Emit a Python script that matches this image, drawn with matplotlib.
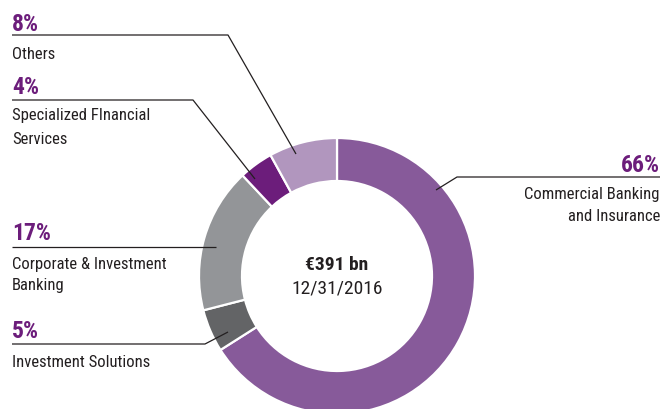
import matplotlib
matplotlib.use("Agg")
import matplotlib.pyplot as plt

plt.rcParams['font.family'] = ['Roboto Condensed', 'Roboto', 'DejaVu Sans']

# Allocated equity by business, 12/31/2016
segments = ["Commercial Banking\nand Insurance", "Investment Solutions",
            "Corporate & Investment\nBanking", "Specialized FInancial\nServices", "Others"]
shares = [66, 5, 17, 4, 8]
colors = ["#875a9a", "#636466", "#939598", "#6c1d7b", "#b196be"]
total_label = "€391 bn"
date_label = "12/31/2016"

PURPLE = "#6c1d7b"
TEXT = "#231f20"

fig = plt.figure(figsize=(6.63, 4.10), dpi=100)
ax = fig.add_axes([0, 0, 1, 1])

cx, cy, r_out, ring = 337, 277, 138, 43
ax.pie(shares, colors=colors, center=(cx, cy), radius=r_out,
       startangle=-90, counterclock=True, frame=True,
       wedgeprops=dict(width=ring, edgecolor="white", linewidth=1.6))
ax.set_xlim(0, 663)
ax.set_ylim(410, 0)
ax.set_aspect("equal")
ax.axis("off")

# label blocks: percent, leader line, then the segment name lines
def block(pct, pct_y, path, lines, ha="left", x=12):
    ax.text(x, pct_y, f"{pct}%", color=PURPLE, fontsize=17, fontweight="bold",
            ha=ha, va="baseline")
    xs, ys = zip(*path)
    ax.plot(xs, ys, color=TEXT, lw=0.9, solid_capstyle="butt")
    for txt, y in lines:
        ax.text(x, y, txt, color=TEXT, fontsize=12, ha=ha, va="baseline")

block(shares[4], 31, [(12, 36), (228, 36), (296, 155)], [("Others", 59)])
block(shares[3], 94, [(12, 101), (193, 101), (255, 180)],
      [("Specialized FInancial", 120), ("Services", 144)])
block(shares[2], 240, [(12, 248), (216, 248)],
      [("Corporate & Investment", 269), ("Banking", 290)])
block(shares[1], 338, [(12, 345), (205, 345), (228, 333)],
      [("Investment Solutions", 367)])
block(shares[0], 172, [(660, 178), (457, 178), (436, 191)],
      [("Commercial Banking", 199), ("and Insurance", 221)], ha="right", x=660)

ax.text(cx, 270, total_label, color=TEXT, fontsize=14, fontweight="bold",
        ha="center", va="baseline")
ax.text(cx, 294, date_label, color=TEXT, fontsize=14, ha="center", va="baseline")

fig.savefig("out.png", dpi=100)
